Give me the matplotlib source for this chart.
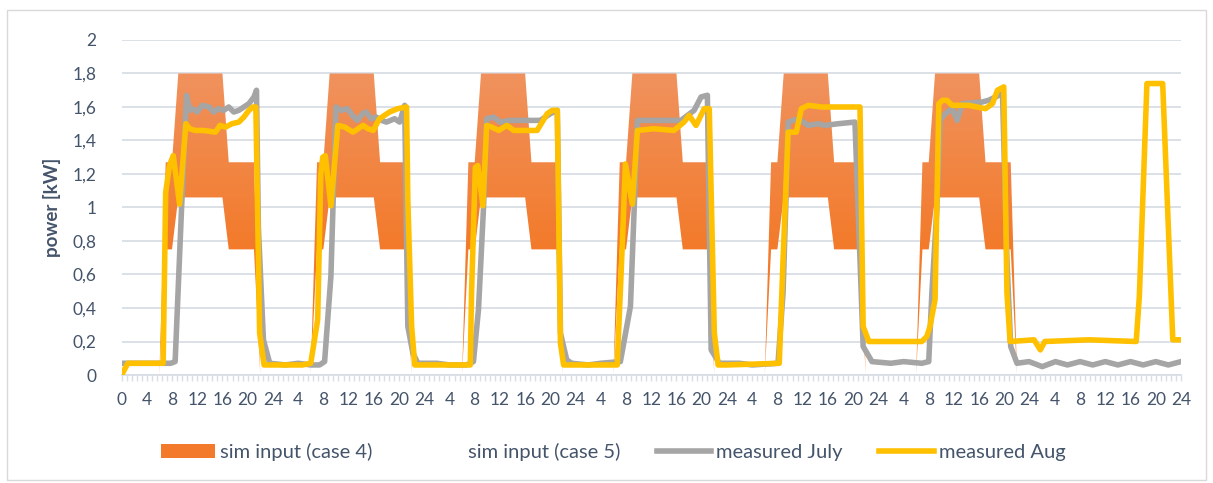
import numpy as np
import matplotlib
matplotlib.use("Agg")
import matplotlib.pyplot as plt
from matplotlib.colors import LinearSegmentedColormap
from matplotlib.patches import Patch, Rectangle
from matplotlib.lines import Line2D
from matplotlib.ticker import MultipleLocator, FixedLocator

plt.rcParams['font.family'] = ['Lato', 'DejaVu Sans']

# sim input: same daily profile on days 1..6 (hour of day -> kW)
sim_days = [0, 1, 2, 3, 4, 5]
sim_hours = [6, 7, 8, 9, 16, 17, 21, 22]
sim_case4_top = [0.0, 1.27, 1.27, 1.80, 1.80, 1.27, 1.27, 0.0]
sim_case5_base = [0.0, 0.75, 0.75, 1.06, 1.06, 0.75, 0.75, 0.0]

# measured July (grey)
july_t = [0, 4, 7.8, 8.5, 9.5, 10.3, 10.8, 11.3, 12, 12.8, 13.9, 14.6, 15.4, 16.2, 17, 17.8,
          18.6, 19.4, 20.2, 21.0, 21.4, 21.7, 22.5, 23.5, 26, 28, 30, 31.4, 32.2, 33.2,
          34.0, 34.8, 35.8, 36.6, 37.4, 38.2, 38.8, 39.6, 40.4, 41.2, 42.0, 43.3, 44.1,
          44.9, 45.4, 46.2, 47, 50, 52, 54.7, 55.8, 56.6, 57.4, 57.9, 59, 60, 61.6, 66.4,
          68, 69.1, 69.6, 70.6, 71.4, 74, 76, 79.1, 80.7, 81.3, 81.8, 88.7, 90.8, 91.9,
          92.9, 93.5, 94.8, 98, 100, 104.1, 104.9, 105.4, 105.7, 107.3, 108.9, 110.5,
          111.5, 113.6, 116.3, 117.1, 117.6, 119, 122, 124, 126.9, 128, 128.5, 129.3,
          129.8, 130.6, 131.7, 132.5, 133.3, 136.5, 137.5, 138.6, 139.7, 140.4, 141, 142,
          143.9, 146, 148.1, 150, 152, 154, 156, 158, 160, 162, 164, 166, 168]
july_kw = [0.07, 0.07, 0.07, 0.08, 0.98, 1.67, 1.58, 1.59, 1.57, 1.61, 1.60, 1.57, 1.59, 1.58,
           1.60, 1.57, 1.58, 1.60, 1.62, 1.66, 1.70, 0.88, 0.21, 0.07, 0.06, 0.07, 0.06, 0.06,
           0.08, 0.59, 1.60, 1.58, 1.59, 1.55, 1.52, 1.56, 1.57, 1.53, 1.54, 1.52, 1.51, 1.53,
           1.51, 1.61, 0.29, 0.13, 0.07, 0.07, 0.06, 0.06, 0.08, 0.39, 1.00, 1.53, 1.54, 1.51,
           1.52, 1.52, 1.56, 1.58, 0.25, 0.09, 0.07, 0.06, 0.07, 0.08, 0.41, 1.00, 1.52, 1.52,
           1.58, 1.66, 1.67, 0.15, 0.07, 0.07, 0.06, 0.07, 0.49, 1.09, 1.51, 1.53, 1.49, 1.50,
           1.49, 1.50, 1.51, 0.69, 0.17, 0.08, 0.07, 0.08, 0.07, 0.08, 0.49, 1.00, 1.52, 1.56,
           1.59, 1.52, 1.62, 1.63, 1.64, 1.66, 1.68, 0.69, 0.17, 0.07, 0.08, 0.05, 0.08, 0.06,
           0.08, 0.06, 0.08, 0.06, 0.08, 0.06, 0.08, 0.06, 0.08]

# measured Aug (yellow)
aug_t = [0, 1, 6.6, 7.0, 7.6, 8.2, 9.2, 10.2, 10.8, 11.7, 13, 14.9, 15.6, 16.5, 17.5, 18.6,
         19.4, 20.2, 20.8, 21.3, 21.9, 22.6, 24, 28.7, 30, 31.1, 31.6, 31.9, 32.3, 33.2, 34.3,
         35.4, 36.7, 37.5, 38.3, 39.1, 39.9, 40.9, 41.7, 42.5, 43.8, 45.2, 45.4, 46.0, 46.5,
         48, 55.3, 55.5, 56.1, 56.5, 57.3, 57.9, 58.7, 59.8, 61.1, 62.2, 65.9, 67.5, 68.3,
         69.1, 69.6, 70.1, 72, 78.6, 79.4, 79.9, 81, 81.8, 84.4, 87.6, 89.2, 90, 91.1, 92.4,
         93.2, 94, 94.6, 96, 104.3, 104.9, 105.7, 107, 107.8, 108.9, 111, 113.1, 116.3, 117.1,
         117.6, 118.5, 126.9, 127.7, 128.2, 129, 129.6, 130.2, 130.9, 131.7, 134.3, 137,
         138.1, 138.9, 139.9, 140.4, 140.9, 144.7, 145.7, 146.4, 153.4, 160.9, 161.4, 162.6,
         165.1, 166.7, 168]
aug_kw = [0.0, 0.07, 0.07, 1.09, 1.25, 1.31, 1.02, 1.50, 1.47, 1.46, 1.46, 1.45, 1.49, 1.48,
          1.50, 1.51, 1.54, 1.58, 1.60, 1.60, 0.25, 0.06, 0.06, 0.06, 0.07, 0.33, 1.20, 1.30,
          1.31, 1.01, 1.49, 1.48, 1.45, 1.47, 1.49, 1.47, 1.46, 1.53, 1.55, 1.57, 1.59, 1.60,
          1.04, 0.29, 0.06, 0.06, 0.06, 0.49, 1.24, 1.25, 1.01, 1.49, 1.48, 1.46, 1.49, 1.46,
          1.46, 1.56, 1.58, 1.58, 0.19, 0.06, 0.06, 0.06, 0.77, 1.26, 1.02, 1.46, 1.47, 1.46,
          1.51, 1.55, 1.49, 1.59, 1.59, 0.25, 0.06, 0.06, 0.07, 0.69, 1.45, 1.45, 1.59, 1.61,
          1.60, 1.60, 1.60, 1.60, 0.29, 0.20, 0.20, 0.23, 0.29, 0.45, 1.62, 1.64, 1.64, 1.61,
          1.61, 1.59, 1.62, 1.70, 1.72, 0.49, 0.20, 0.21, 0.15, 0.20, 0.21, 0.20, 0.47, 1.74,
          1.74, 0.21, 0.21]

y_ticks = [0, 0.2, 0.4, 0.6, 0.8, 1.0, 1.2, 1.4, 1.6, 1.8, 2.0]
y_labels = ['0', '0,2', '0,4', '0,6', '0,8', '1', '1,2', '1,4', '1,6', '1,8', '2']
x_ticks = list(range(0, 169, 4))
x_labels = ['0' if h == 0 else str(h % 24 or 24) for h in x_ticks]

txt = '#44546a'
grid_c = '#d9dde5'
orange_top, orange_bot = '#f0925e', '#f37a2a'
grey, yellow = '#a5a5a5', '#ffc000'

fig = plt.figure(figsize=(12.13, 4.83), dpi=100)
ax = fig.add_axes([0.1002, 0.2236, 0.9736 - 0.1002, 0.9172 - 0.2236])

# build sim band from the daily profile
sim_t, sim_lo, sim_hi = [0.0], [0.0], [0.0]
for d in sim_days:
    for h, lo, hi in zip(sim_hours, sim_case5_base, sim_case4_top):
        sim_t.append(d * 24 + h)
        sim_lo.append(lo)
        sim_hi.append(hi)
sim_t.append(168.0); sim_lo.append(0.0); sim_hi.append(0.0)

band = ax.fill_between(sim_t, sim_lo, sim_hi, facecolor='none', edgecolor='none', zorder=2)
yy = np.linspace(0, 2, 400)
grad = np.clip((yy - 0.75) / (1.8 - 0.75), 0, 1)[:, None]
cmap = LinearSegmentedColormap.from_list('og', [orange_bot, orange_top])
im = ax.imshow(grad, extent=[0, 168, 0, 2], origin='lower', aspect='auto', cmap=cmap,
               vmin=0, vmax=1, zorder=2, interpolation='bilinear')
im.set_clip_path(band.get_paths()[0], transform=ax.transData)

ax.plot(july_t, july_kw, color=grey, lw=4.0, solid_joinstyle='round', zorder=3)
ax.plot(aug_t, aug_kw, color=yellow, lw=4.0, solid_joinstyle='round', zorder=4)

ax.set_xlim(0, 168)
ax.set_ylim(0, 2)
ax.set_yticks(y_ticks)
ax.set_yticklabels(y_labels)
ax.xaxis.set_major_locator(FixedLocator(x_ticks))
ax.set_xticklabels(x_labels)
ax.xaxis.set_minor_locator(MultipleLocator(0.8))
ax.grid(axis='y', color=grid_c, lw=1.3, zorder=0)
ax.set_axisbelow(True)
for s in ['left', 'right', 'top']:
    ax.spines[s].set_visible(False)
ax.spines['bottom'].set_color(grid_c)
ax.spines['bottom'].set_linewidth(1.3)
ax.tick_params(axis='y', length=0, pad=18, labelsize=12.5, labelcolor=txt)
ax.tick_params(axis='x', which='both', direction='out', length=4, width=1, color=grid_c,
               labelsize=12.5, labelcolor=txt, pad=8)
ax.set_ylabel('power [kW]', fontsize=13.5, fontweight='bold', color=txt, labelpad=8)

handles = [Patch(facecolor=orange_bot, edgecolor='none'),
           Patch(facecolor='none', edgecolor='none'),
           Line2D([], [], color=grey, lw=4.0),
           Line2D([], [], color=yellow, lw=4.0)]
labels = ['sim input (case 4)', 'sim input (case 5)', 'measured July', 'measured Aug']
fig.legend(handles, labels, loc='center', bbox_to_anchor=(0.5055, 0.064), ncol=4,
           frameon=False, fontsize=14.5, labelcolor=txt, handlelength=2.7,
           handleheight=0.75, handletextpad=0.25, columnspacing=1.8)

fig.add_artist(Rectangle((0.006, 0.006), 0.988, 0.973, transform=fig.transFigure,
                         fill=False, edgecolor='#d9d9d9', lw=1))

fig.savefig('out.png', dpi=100)
